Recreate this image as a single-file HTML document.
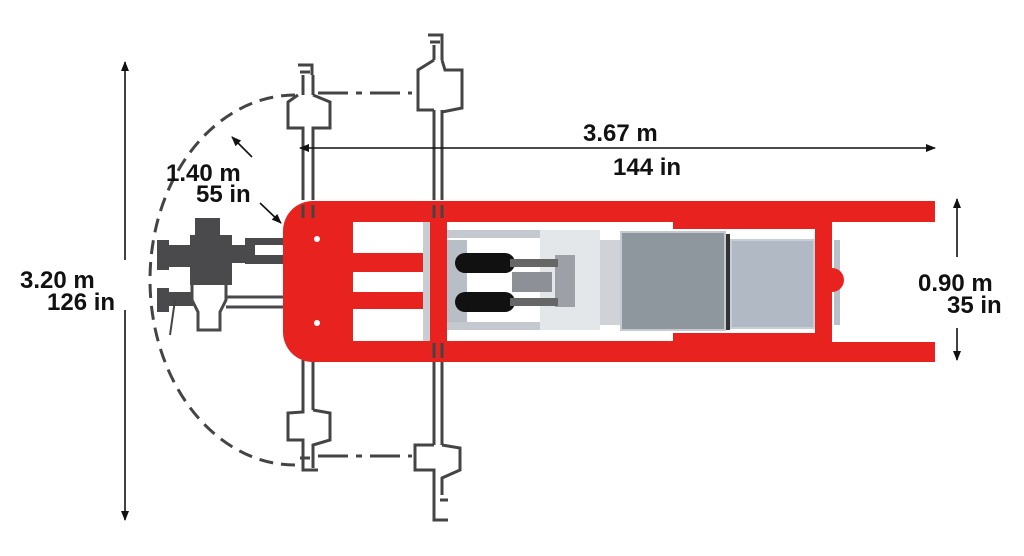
<!DOCTYPE html>
<html><head><meta charset="utf-8"><style>
html,body{margin:0;padding:0;background:#fff;width:1024px;height:556px;overflow:hidden}
svg{display:block}
text{font-family:"Liberation Sans",Arial,sans-serif;fill:#111}
</style></head><body>
<svg width="1024" height="556" viewBox="0 0 1024 556" xmlns="http://www.w3.org/2000/svg">
<defs>
<marker id="ah" markerWidth="10" markerHeight="8" refX="9" refY="4" orient="auto" markerUnits="userSpaceOnUse">
<path d="M0,0 L10,4 L0,8 Z" fill="#111"/></marker>
</defs>

<path d="M295,95 A145,185 0 0 0 295,465" fill="none" stroke="#444" stroke-width="3" stroke-dasharray="14,8"/>
<g stroke="#444" stroke-width="3" fill="none" stroke-dasharray="30,8,6,8">
<line x1="318" y1="93" x2="412" y2="93"/>
<line x1="318" y1="456" x2="412" y2="456"/>
</g>

<g stroke="#444" stroke-width="3" fill="none">
<path d="M303,140 V200 M313,140 V200 M303,360 V410 M313,360 V410"/>
<path d="M298,65 H312 V75 M300,72 H310 M303,75 V95 M313,75 V95 M298,95 L288,102 V128 H303 V140 M313,95 L330,102 V128 H313 V140"/>
<path d="M303,410 V412 L288,413 V440 H303 V455 M313,410 L330,413 V440 L313,445 V455 M303,455 V470 H318 M313,455 V468 M300,458 H310"/>
<path d="M434,110 V200 M442,110 V200 M434,360 V445 M442,360 V445"/>
<path d="M428,35 H442 V45 M430,42 H440 M434,45 V60 M442,45 V60 M434,60 L418,70 V110 H434 M442,60 L445,70 H462 V108 L442,112"/>
<path d="M434,445 H415 V470 H434 V495 M442,445 L460,448 V470 L442,478 V495 M434,495 V520 H448 M440,500 H448"/>
</g>

<g fill="#4a4a4d">
<rect x="157" y="240" width="12" height="30"/>
<rect x="165" y="245" width="40" height="22"/>
<rect x="195" y="218" width="25" height="22"/>
<rect x="190" y="235" width="42" height="50"/>
<rect x="230" y="245" width="20" height="18"/>
<rect x="245" y="238" width="42" height="26"/>
<rect x="157" y="288" width="12" height="24"/>
<rect x="165" y="292" width="28" height="14"/>
</g>
<rect x="255" y="245" width="30" height="10" fill="#fff"/>
<path d="M192,285 V300 L198,312 V330 H220 V312 L226,300 V285 M226,297 H285 M226,307 H285" fill="none" stroke="#4a4a4d" stroke-width="3"/>
<line x1="175" y1="300" x2="170" y2="335" stroke="#444" stroke-width="2"/>

<path d="M313,201 H935 V222 H832 V342 H935 V362 H313 A30,30 0 0 1 283,332 V231 A30,30 0 0 1 313,201 Z" fill="#e8231f"/>
<g fill="#fff">
<rect x="353" y="222" width="70" height="31"/>
<rect x="353" y="272" width="70" height="20"/>
<rect x="353" y="309" width="70" height="32"/>
</g>
<rect x="423" y="222" width="7" height="119" fill="#c9ccd1"/>
<circle cx="317" cy="239" r="3" fill="#fff"/>
<circle cx="317" cy="323" r="3" fill="#fff"/>
<rect x="447" y="222" width="226" height="119" fill="#fff"/>
<rect x="673" y="229" width="142" height="104" fill="#fff"/>
<rect x="832" y="222" width="103" height="120" fill="#fff"/>
<rect x="834" y="240" width="6" height="85" fill="#b9c0c9"/>
<path d="M832,268 A12,12 0 0 1 832,292 Z" fill="#e8231f"/>
<rect x="447" y="230" width="150" height="8" fill="#c4c9d0"/>
<rect x="447" y="322" width="150" height="8" fill="#c4c9d0"/>
<rect x="447" y="240" width="20" height="82" fill="#b8bec6"/>
<rect x="540" y="230" width="60" height="100" fill="#e4e7ea"/>
<rect x="600" y="240" width="20" height="85" fill="#cfd3d8"/>
<rect x="512" y="272" width="40" height="20" fill="#8d9096"/>
<rect x="555" y="255" width="20" height="52" fill="#9da1a7"/>
<rect x="455" y="253" width="60" height="20" rx="10" fill="#111"/>
<rect x="455" y="292" width="60" height="20" rx="10" fill="#111"/>
<rect x="510" y="259" width="48" height="8" fill="#666"/>
<rect x="510" y="298" width="48" height="8" fill="#666"/>
<rect x="621" y="232" width="104" height="98" fill="#8e969e" stroke="#c5cad0" stroke-width="2"/>
<rect x="726" y="234" width="4" height="96" fill="#333"/>
<rect x="731" y="240" width="83" height="88" fill="#b0b9c4" stroke="#c8ced5" stroke-width="2"/>

<g stroke="#444" stroke-width="3">
<line x1="303" y1="205" x2="303" y2="218"/><line x1="313" y1="205" x2="313" y2="218"/>
<line x1="434" y1="205" x2="434" y2="218"/><line x1="442" y1="205" x2="442" y2="218"/>
<line x1="434" y1="343" x2="434" y2="358"/><line x1="442" y1="343" x2="442" y2="358"/>
</g>

<g stroke="#111" stroke-width="1.6" fill="none">
<line x1="125" y1="260" x2="125" y2="62" marker-end="url(#ah)"/>
<line x1="125" y1="310" x2="125" y2="520" marker-end="url(#ah)"/>
<line x1="600" y1="148" x2="300" y2="148" marker-end="url(#ah)"/>
<line x1="600" y1="148" x2="935" y2="148" marker-end="url(#ah)"/>
<line x1="957" y1="257" x2="957" y2="199" marker-end="url(#ah)"/>
<line x1="957" y1="328" x2="957" y2="360" marker-end="url(#ah)"/>
<line x1="252" y1="157" x2="232" y2="137" marker-end="url(#ah)"/>
<line x1="260" y1="203" x2="281" y2="223" marker-end="url(#ah)"/>
</g>
<g font-size="24" font-weight="bold">
<text x="20" y="288">3.20 m</text>
<text x="47" y="310">126 in</text>
<text x="583" y="141">3.67 m</text>
<text x="613" y="175">144 in</text>
<text x="166" y="181">1.40 m</text>
<text x="196" y="202">55 in</text>
<text x="918" y="291">0.90 m</text>
<text x="947" y="313">35 in</text>
</g>
</svg>
</body></html>
